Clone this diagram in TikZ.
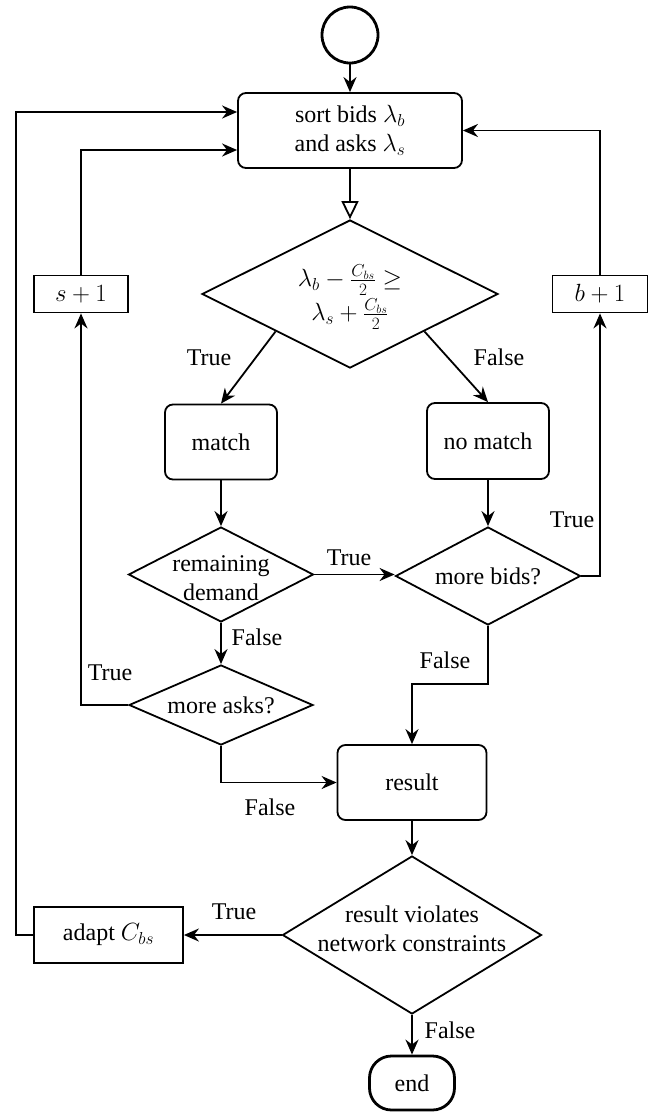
\documentclass[tikz,border=0pt]{standalone}
\usepackage{fontspec}
\setmainfont{Liberation Serif}
\usetikzlibrary{shapes.geometric,arrows.meta,calc}
\begin{document}
\begin{tikzpicture}[x=1pt,y=-1pt,
  font=\fontsize{24}{29}\selectfont,
  line width=1.8pt,
  arr/.style={-{Stealth[length=15pt,width=13pt]}},
  box/.style={draw, rounded corners=8pt, align=center, inner sep=0pt},
  sq/.style={draw, align=center, inner sep=0pt},
  dia/.style={draw, diamond, inner sep=0pt},
  lab/.style={inner sep=0pt, align=center}]
\fill[white] (0,0) rectangle (654,1112);
\path[use as bounding box] (0,0) rectangle (654,1112);

% nodes
\node[draw, circle, line width=2.8pt, minimum size=56pt, inner sep=0pt] (start) at (350,35) {};
\node[box, minimum width=224pt, minimum height=75pt] (sort) at (350,130.5) {sort bids $\lambda_b$\\and asks $\lambda_s$};
\node[dia, minimum width=296pt, minimum height=148pt] (cmp) at (350,294) {};
\node[lab] (cmpt) at (350,297) {$\lambda_b-\frac{C_{bs}}{2}\geq$\\[3pt]$\lambda_s+\frac{C_{bs}}{2}$};
\node[sq, minimum width=94pt, minimum height=37pt] (sp) at (81,294) {$s+1$};
\node[sq, minimum width=95pt, minimum height=37pt] (bp) at (600,294) {$b+1$};
\node[box, minimum width=112pt, minimum height=75pt] (match) at (221,442) {match};
\node[box, minimum width=122pt, minimum height=76pt] (nomatch) at (488,441) {no match};
\node[dia, minimum width=185pt, minimum height=95pt] (rd) at (221,574.5) {};
\node[lab] (rdt) at (221,578) {remaining\\demand};
\node[dia, minimum width=185pt, minimum height=98pt] (mb) at (488,576) {};
\node[lab] (mbt) at (488,576) {more bids?};
\node[dia, minimum width=184pt, minimum height=80pt] (ma) at (221,705) {};
\node[lab] (mat) at (221,705) {more asks?};
\node[box, minimum width=149pt, minimum height=75pt] (res) at (412,782.5) {result};
\node[dia, minimum width=259pt, minimum height=158pt] (viol) at (412,935) {};
\node[lab] (violt) at (412,929) {result violates\\network constraints};
\node[sq, minimum width=149pt, minimum height=56pt] (adapt) at (108.5,935) {adapt $C_{bs}$};
\node[draw, rounded corners=22pt, line width=2.8pt, minimum width=85pt, minimum height=54pt, inner sep=0pt] (end) at (412,1083) {end};

% labels
\node[lab] (l1) at (209,358) {True};
\node[lab] (l2) at (499,357) {False};
\node[lab] (l3) at (349,558) {True};
\node[lab] (l4) at (257,637) {False};
\node[lab] (l5) at (572,520) {True};
\node[lab] (l6) at (110,673) {True};
\node[lab] (l7) at (445,660) {False};
\node[lab] (l8) at (270,807) {False};
\node[lab] (l9) at (234,912) {True};
\node[lab] (l10) at (450,1030) {False};

% helper coordinates
\coordinate (sortL1) at ($(sort.west)+(0,-18.5)$);
\coordinate (sortL2) at ($(sort.west)+(0,19.5)$);
\coordinate (cornerA) at (16,935);

% connectors
\draw[arr] (start) -- (sort);
\draw[-{Triangle[open,length=18pt,width=17pt]}] (sort.south) -- (cmp.north);
\draw[arr] (cmp.south west) -- (match.north);
\draw[arr] (cmp.south east) -- (nomatch.north);
\draw[arr] (match.south) -- (rd.north);
\draw[arr] (nomatch.south) -- (mb.north);
\draw[arr] (rd.east) -- (rd.east -| mb.west);
\draw[arr] (rd.south) -- (ma.north);
\draw[arr] (mb.east) -| (bp.south);
\draw[arr] (bp.north) |- (sort.east);
\draw[arr] (ma.west) -| (sp.south);
\draw[arr] (sp.north) |- (sortL2);
\draw[arr] (mb.south) -- ++(0,58) -| (res.north);
\draw[arr] (ma.south) |- (res.west);
\draw[arr] (res.south) -- (viol.north);
\draw[arr] (viol.west) -- (adapt.east);
\draw[arr] (adapt.west) -- (cornerA) |- (sortL1);
\draw[arr] (viol.south) -- (end.north);
\end{tikzpicture}
\end{document}
